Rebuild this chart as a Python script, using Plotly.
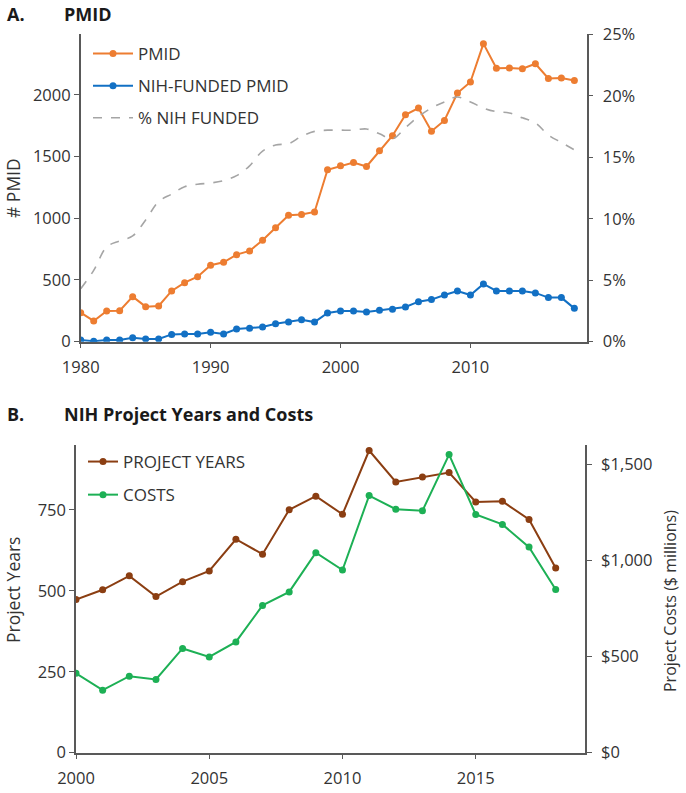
import plotly.graph_objects as go

# ---- Panel A data ----
years_a = list(range(1980, 2019))
pmid = [235, 168, 249, 251, 365, 284, 289, 411, 478, 527,
        619, 643, 705, 735, 822, 922, 1024, 1030, 1051, 1392,
        1424, 1451, 1419, 1546, 1668, 1838, 1892, 1705, 1792, 2014,
        2103, 2414, 2214, 2216, 2211, 2251, 2132, 2135, 2116]
nih_pmid = [14, 3, 14, 14, 32, 22, 22, 59, 62, 62,
            76, 62, 103, 108, 119, 146, 159, 178, 159, 232,
            249, 249, 240, 254, 262, 281, 324, 341, 378, 411,
            378, 468, 411, 411, 411, 395, 357, 357, 270]
pct_nih = [4.3, 5.8, 7.7, 8.2, 8.6, 9.9, 11.4, 12.0, 12.6, 12.8,
           12.9, 13.1, 13.5, 14.3, 15.5, 16.0, 16.1, 16.7, 17.1, 17.2,
           17.2, 17.2, 17.3, 16.9, 16.5, 17.4, 18.3, 19.0, 19.5, 19.9,
           19.5, 19.0, 18.7, 18.6, 18.2, 17.8, 16.8, 16.2, 15.6]

# ---- Panel B data ----
years_b = list(range(2000, 2019))
project_years = [473, 503, 546, 482, 528, 561, 659, 613, 750, 792,
                 736, 933, 836, 851, 865, 774, 776, 720, 570]
costs = [413, 325, 398, 381, 542, 498, 576, 766, 836, 1040,
         950, 1337, 1266, 1258, 1550, 1239, 1187, 1069, 849]

W, H = 686, 793
FONT = "Open Sans"
AX = "#595959"
TXT = "#333333"

def px_x(p):
    return p / W

def px_y(p):
    return 1 - p / H

fig = go.Figure()

fig.add_trace(go.Scatter(x=years_a, y=pmid, name="PMID", mode="lines+markers",
                         line=dict(color="#ED7D31", width=2), marker=dict(size=7, color="#ED7D31"),
                         xaxis="x", yaxis="y", legend="legend", legendgroup="a1"))
fig.add_trace(go.Scatter(x=years_a, y=nih_pmid, name="NIH-FUNDED PMID", mode="lines+markers",
                         line=dict(color="#1270C4", width=2), marker=dict(size=7, color="#1270C4"),
                         xaxis="x", yaxis="y", legend="legend", legendgroup="a2"))
fig.add_trace(go.Scatter(x=years_a, y=pct_nih, name="% NIH FUNDED", mode="lines",
                         line=dict(color="#A5A5A5", width=1.6, dash="dash", shape="spline"),
                         xaxis="x", yaxis="y2", legend="legend", legendgroup="a3"))

fig.add_trace(go.Scatter(x=years_b, y=project_years, name="PROJECT YEARS", mode="lines+markers",
                         line=dict(color="#8B3E12", width=2), marker=dict(size=7, color="#8B3E12"),
                         xaxis="x2", yaxis="y3", legend="legend2", legendgroup="b1"))
fig.add_trace(go.Scatter(x=years_b, y=costs, name="COSTS", mode="lines+markers",
                         line=dict(color="#1DB055", width=2), marker=dict(size=7, color="#1DB055"),
                         xaxis="x2", yaxis="y4", legend="legend2", legendgroup="b2"))

axis_common = dict(showline=True, linecolor=AX, linewidth=1.5, ticks="outside", ticklen=5,
                   tickcolor=AX, tickwidth=1.2, showgrid=False, zeroline=False, automargin=False,
                   tickfont=dict(family=FONT, size=16.5, color=TXT))

top_dom_x = [px_x(80.7), px_x(586.7)]
top_dom_y = [px_y(341.7), px_y(34)]
bot_dom_x = [px_x(76), px_x(585)]
bot_dom_y = [px_y(752.7), px_y(445)]

fig.update_layout(
    width=W, height=H, margin=dict(l=0, r=0, t=0, b=0, autoexpand=False),
    paper_bgcolor="white", plot_bgcolor="white",
    font=dict(family=FONT, color=TXT),
    xaxis=dict(domain=top_dom_x, anchor="y", range=[1980, 2018.95], tick0=1980, dtick=10,
               ticklabelstandoff=5, **axis_common),
    yaxis=dict(domain=top_dom_y, anchor="x", range=[0, 2492], dtick=500, **axis_common),
    yaxis2=dict(domain=top_dom_y, anchor="x", overlaying="y", side="right", range=[0, 25.02], dtick=5,
                ticksuffix="%", ticklabelstandoff=6, **axis_common),
    xaxis2=dict(domain=bot_dom_x, anchor="y3", range=[2000, 2019.1], tick0=2000, dtick=5,
                ticklabelstandoff=5, **axis_common),
    yaxis3=dict(domain=bot_dom_y, anchor="x2", range=[0, 950], dtick=250, **axis_common),
    yaxis4=dict(domain=bot_dom_y, anchor="x2", overlaying="y3", side="right", range=[0, 1600], dtick=500,
                tickprefix="$", tickformat=",", ticklabelstandoff=6, **axis_common),
    legend=dict(x=px_x(88), y=px_y(36), xanchor="left", yanchor="top", bgcolor="rgba(0,0,0,0)",
                font=dict(family=FONT, size=17, color=TXT), tracegroupgap=7, traceorder="grouped",
                itemwidth=40),
    legend2=dict(x=px_x(83), y=px_y(444), xanchor="left", yanchor="top", bgcolor="rgba(0,0,0,0)",
                 font=dict(family=FONT, size=17, color=TXT), tracegroupgap=8, traceorder="grouped",
                 itemwidth=30),
    showlegend=True,
)

title_font = dict(family=FONT, size=18, color="#1a1a1a", weight="bold")
for txt, x, y in [("A.", 5, 14), ("PMID", 62, 14), ("B.", 5, 414), ("NIH Project Years and Costs", 62, 414)]:
    fig.add_annotation(text=txt, xref="paper", yref="paper", x=px_x(x), y=px_y(y),
                       xanchor="left", yanchor="middle", showarrow=False, font=title_font)

for txt, x, y, fs in [("# PMID", 13, 188, 17.5), ("Project Years", 13, 590, 17.5),
                      ("Project Costs ($ millions)", 670, 601, 16)]:
    fig.add_annotation(text=txt, xref="paper", yref="paper", x=px_x(x), y=px_y(y),
                       xanchor="center", yanchor="middle", textangle=-90, showarrow=False,
                       font=dict(family=FONT, size=fs, color=TXT))

# remove the browser's default 8px body margin so the figure sits at the window's corner
fig.write_html("out.html", config={"displayModeBar": False},
               post_script="document.body.style.margin='0px';")
